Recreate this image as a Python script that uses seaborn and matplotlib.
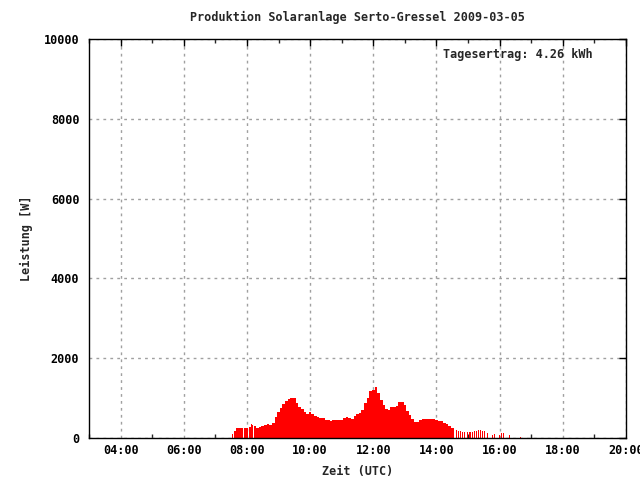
import matplotlib
matplotlib.use("Agg")
import matplotlib.pyplot as plt
import seaborn as sns
import numpy as np
import pandas as pd
from matplotlib.ticker import FixedLocator, MultipleLocator

title = "Produktion Solaranlage Serto-Gressel 2009-03-05"
yield_text = "Tagesertrag: 4.26 kWh"
xlabel = "Zeit (UTC)"
ylabel = "Leistung [W]"

# early sparse samples (time HH:MM, watts)
early_times = ["07:33", "07:37", "07:39", "07:41", "07:43", "07:45", "07:47", "07:49", "07:51",
               "07:55", "07:57", "07:59", "08:01", "08:05", "08:07", "08:09", "08:11"]
early_vals = [100, 185, 185, 240, 260, 260, 260, 260, 260,
              260, 260, 260, 260, 275, 275, 360, 325]

# dense 5-minute samples from 08:15 to 14:30
dense_start = "08:15"
dense_vals = [300, 260, 270, 300, 320, 350, 330, 380, 520, 650, 750, 850, 920, 970, 1000, 990,
              880, 780, 720, 660, 610, 650, 590, 560, 535, 510, 490, 455, 440, 430, 450, 450,
              450, 455, 490, 535, 490, 470, 560, 600, 620, 700, 870, 1000, 1180, 1200, 1285,
              1120, 950, 825, 720, 710, 765, 770, 800, 890, 890, 820, 680, 570, 480, 400, 390,
              450, 475, 475, 475, 475, 470, 460, 415, 420, 375, 345, 290, 240]

# late sparse samples
late_times = ["14:33", "14:38", "14:42", "14:46", "14:50", "14:54", "14:58", "15:02", "15:05",
              "15:09", "15:13", "15:16", "15:20", "15:24", "15:28", "15:32", "15:37", "15:46",
              "15:51", "15:59", "16:04", "16:08", "16:18", "16:39"]
late_vals = [230, 200, 185, 180, 160, 155, 150, 150, 150, 155, 165, 180, 200, 200, 180, 170,
             130, 80, 105, 75, 120, 120, 75, 20]

xticks = [4, 6, 8, 10, 12, 14, 16, 18, 20]
xticklabels = ["04:00", "06:00", "08:00", "10:00", "12:00", "14:00", "16:00", "18:00", "20:00"]
yticks = [0, 2000, 4000, 6000, 8000, 10000]


def to_h(s):
    h, m = s.split(":")
    return int(h) + int(m) / 60.0


h0 = to_h(dense_start)
dense_t = [h0 + i * 5 / 60.0 for i in range(len(dense_vals))]

sns.set_style("white")
plt.rcParams["font.family"] = ["DejaVu Sans Mono"]
plt.rcParams["font.weight"] = "bold"

fig = plt.figure(figsize=(6.4, 4.8), dpi=100)
ax = fig.add_axes([89 / 640, 1 - 438 / 480, (626 - 89) / 640, (438 - 39) / 480])

red = "#ff0000"
df_d = pd.DataFrame({"t": dense_t, "w": dense_vals})
df_e = pd.DataFrame({"t": [to_h(s) for s in early_times], "w": early_vals})
df_l = pd.DataFrame({"t": [to_h(s) for s in late_times], "w": late_vals})

ax.bar(df_d["t"], df_d["w"], width=5 / 60.0, color=red, linewidth=0, antialiased=False, zorder=3)
ax.bar(df_e["t"], df_e["w"], width=2 / 60.0, color=red, linewidth=0, antialiased=False, zorder=3)
ax.bar(df_l["t"], df_l["w"], width=1.9 / 60.0, color=red, linewidth=0, antialiased=False, zorder=3)

ax.set_xlim(3, 20)
ax.set_ylim(0, 10000)
ax.xaxis.set_major_locator(FixedLocator(xticks))
ax.set_xticklabels(xticklabels)
ax.xaxis.set_minor_locator(MultipleLocator(1))
ax.yaxis.set_major_locator(FixedLocator(yticks))
ax.set_yticklabels([str(v) for v in yticks])

ax.grid(True, which="major", color="#a0a0a0", linestyle=(0, (2, 3)), linewidth=1, zorder=1)
ax.set_axisbelow(True)
for sp in ax.spines.values():
    sp.set_visible(True)
    sp.set_color("black")
    sp.set_linewidth(1)
    sp.set_zorder(5)

fs = 8.5
ax.tick_params(axis="both", which="major", direction="in", length=5, width=1,
               top=True, right=True, labelsize=fs, colors="black")
ax.tick_params(axis="x", which="major", pad=4)
ax.tick_params(axis="y", which="major", pad=7)
ax.tick_params(axis="x", which="minor", direction="in", length=3, width=1, top=True, bottom=True)
for lab in ax.get_xticklabels() + ax.get_yticklabels():
    lab.set_fontweight("bold")

ax.set_title(title, fontsize=fs, fontweight="bold", pad=13)
ax.set_xlabel(xlabel, fontsize=fs, fontweight="bold", labelpad=6)
ax.set_ylabel(ylabel, fontsize=fs, fontweight="bold", labelpad=8)
ax.text(0.938, 0.978, yield_text, transform=ax.transAxes, ha="right", va="top",
        fontsize=fs, fontweight="bold")

fig.savefig("out.png", dpi=100)
